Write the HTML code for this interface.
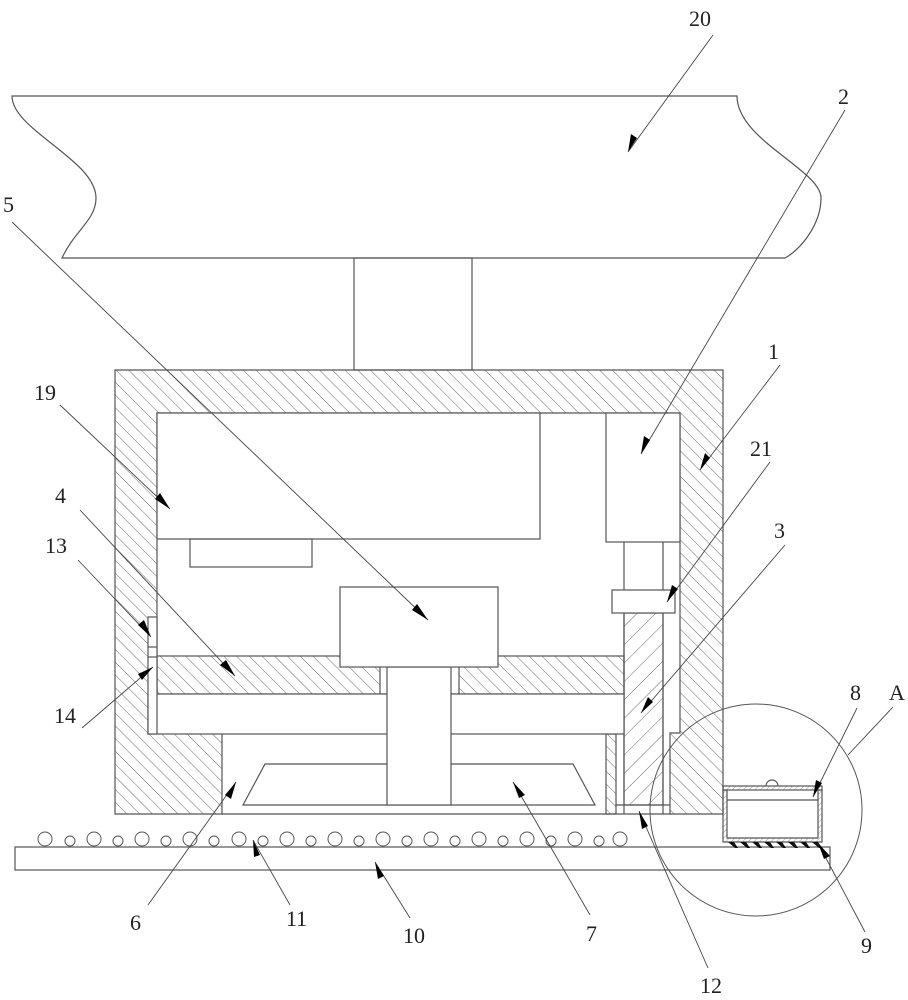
<!DOCTYPE html>
<html><head><meta charset="utf-8"><style>
html,body{margin:0;padding:0;background:#fff;}
svg{display:block;}
text{font-family:"Liberation Serif",serif;font-size:22px;fill:#222;}
</style></head><body>
<svg width="908" height="1000" viewBox="0 0 908 1000" xmlns="http://www.w3.org/2000/svg">
<defs>
<pattern id="h1" patternUnits="userSpaceOnUse" width="9" height="9" patternTransform="rotate(-45)">
<line x1="0" y1="0" x2="0" y2="9" stroke="#444" stroke-width="0.8"/></pattern>
<pattern id="h2" patternUnits="userSpaceOnUse" width="13" height="13" patternTransform="rotate(45)">
<line x1="0" y1="0" x2="0" y2="13" stroke="#444" stroke-width="0.8"/></pattern>
<pattern id="h3" patternUnits="userSpaceOnUse" width="4" height="4" patternTransform="rotate(45)">
<line x1="0" y1="0" x2="0" y2="4" stroke="#555" stroke-width="0.6"/></pattern>
</defs>
<g fill="none" stroke="#555" stroke-width="1.2">
<path d="M12,96 L737,96 C737,140 821,170 821,198 C821,225 800,250 785,258 L62,258 C75,230 96,220 96,198 C96,160 12,130 12,96 Z" fill="#fff"/>
<rect x="354" y="258" width="118" height="112"/>
<path fill-rule="evenodd" fill="url(#h1)" d="M115,370 H723 V814 H670 V733 H680 V413 H157 V733 H222 V814 H115 Z"/>
<line x1="222" y1="814" x2="670" y2="814"/>
<rect x="606" y="734" width="10" height="80" fill="url(#h1)"/>
<rect x="157" y="413" width="383" height="126" fill="#fff"/>
<rect x="190" y="539" width="122" height="28"/>
<rect x="606" y="413" width="74" height="129" fill="#fff"/>
<line x1="624" y1="542" x2="624" y2="814"/>
<line x1="663" y1="542" x2="663" y2="814"/>
<rect x="624" y="613" width="39" height="192" fill="url(#h2)"/>
<line x1="616" y1="805" x2="670" y2="805"/>
<rect x="612" y="590" width="63" height="23" fill="#fff"/>
<rect x="157" y="656" width="467" height="38" fill="url(#h1)"/>
<rect x="380" y="656" width="79" height="38" fill="#fff"/>
<rect x="148" y="694" width="476" height="40" fill="#fff"/>
<rect x="148" y="617" width="9" height="117" fill="#fff"/>
<line x1="148" y1="647" x2="157" y2="647"/>
<line x1="148" y1="657" x2="157" y2="657"/>
<path d="M265,764 H573 L595,805 H243 Z" fill="#fff"/>
<rect x="387" y="667" width="64" height="138" fill="#fff"/>
<rect x="340" y="587" width="158" height="80" fill="#fff"/>
<rect x="15" y="847" width="815" height="23" fill="#fff"/>
<rect x="723" y="786" width="99" height="4" fill="url(#h3)"/>
<path d="M723,790 V842 H822 V790 H818 V838 H727 V790 Z" fill="url(#h3)"/>
<line x1="727" y1="800" x2="818" y2="800"/>
<path d="M766,786 A6,6 0 0 1 778,786"/>
<circle cx="756" cy="810" r="106" stroke-width="1"/>
</g>
<g fill="#fff" stroke="#555" stroke-width="1">
<circle cx="45" cy="839" r="7"/><circle cx="70" cy="841" r="5"/><circle cx="94" cy="839" r="7"/><circle cx="118" cy="841" r="5"/><circle cx="142" cy="839" r="7"/><circle cx="166" cy="841" r="5"/><circle cx="190" cy="839" r="7"/><circle cx="214" cy="841" r="5"/><circle cx="239" cy="839" r="7"/><circle cx="263" cy="841" r="5"/><circle cx="287" cy="839" r="7"/><circle cx="311" cy="841" r="5"/><circle cx="335" cy="839" r="7"/><circle cx="359" cy="841" r="5"/><circle cx="383" cy="839" r="7"/><circle cx="407" cy="841" r="5"/><circle cx="431" cy="839" r="7"/><circle cx="455" cy="841" r="5"/><circle cx="479" cy="839" r="7"/><circle cx="503" cy="841" r="5"/><circle cx="527" cy="839" r="7"/><circle cx="551" cy="841" r="5"/><circle cx="575" cy="839" r="7"/><circle cx="599" cy="841" r="5"/><circle cx="620" cy="839" r="7"/>
</g>
<g fill="#111">
<path d="M728,842 h6 l4,6 h-3 z M740,842 h6 l4,6 h-3 z M752,842 h6 l4,6 h-3 z M764,842 h6 l4,6 h-3 z M776,842 h6 l4,6 h-3 z M788,842 h6 l4,6 h-3 z M800,842 h6 l4,6 h-3 z M812,842 h6 l4,6 h-3 z"/>
</g>
<g stroke="#444" stroke-width="0.9" fill="none">
<line x1="713" y1="35" x2="628" y2="152"/>
<line x1="845" y1="110" x2="641" y2="454"/>
<line x1="780" y1="365" x2="700" y2="470"/>
<line x1="12" y1="222" x2="428" y2="620"/>
<line x1="60" y1="405" x2="170" y2="509"/>
<line x1="770" y1="462" x2="667" y2="602"/>
<line x1="785" y1="545" x2="641" y2="713"/>
<line x1="80" y1="510" x2="235" y2="676"/>
<line x1="78" y1="560" x2="151" y2="637"/>
<line x1="82" y1="728" x2="153" y2="667"/>
<line x1="148" y1="905" x2="236" y2="782"/>
<line x1="590" y1="915" x2="513" y2="782"/>
<line x1="290" y1="905" x2="253" y2="840"/>
<line x1="410" y1="918" x2="375" y2="862"/>
<line x1="708" y1="968" x2="639" y2="811"/>
<line x1="857" y1="708" x2="813" y2="797"/>
<line x1="865" y1="932" x2="818" y2="843"/>
<line x1="893" y1="707" x2="848" y2="755"/>
</g>
<g fill="#000">
<polygon points="628,152 631,134 637,138"/>
<polygon points="641,454 644,436 650,440"/>
<polygon points="700,470 705,453 710,458"/>
<polygon points="428,620 412,610 417,604"/>
<polygon points="170,509 155,499 160,493"/>
<polygon points="667,602 672,585 678,589"/>
<polygon points="641,713 648,697 653,702"/>
<polygon points="235,676 220,665 226,660"/>
<polygon points="151,637 138,625 144,620"/>
<polygon points="153,667 142,680 138,674"/>
<polygon points="236,782 231,799 225,795"/>
<polygon points="513,782 525,795 519,798"/>
<polygon points="253,840 260,855 254,857"/>
<polygon points="375,862 384,876 378,879"/>
<polygon points="639,811 648,826 642,829"/>
<polygon points="813,797 816,780 822,783"/>
<polygon points="818,843 830,856 824,859"/>
</g>
<g>
<text x="689" y="26">20</text>
<text x="838" y="104">2</text>
<text x="3" y="212">5</text>
<text x="768" y="359">1</text>
<text x="34" y="400">19</text>
<text x="750" y="456">21</text>
<text x="774" y="538">3</text>
<text x="55" y="503">4</text>
<text x="45" y="553">13</text>
<text x="850" y="700">8</text>
<text x="889" y="700">A</text>
<text x="54" y="723">14</text>
<text x="130" y="930">6</text>
<text x="286" y="926">11</text>
<text x="403" y="943">10</text>
<text x="586" y="941">7</text>
<text x="700" y="993">12</text>
<text x="861" y="953">9</text>
</g>
</svg>
</body></html>
